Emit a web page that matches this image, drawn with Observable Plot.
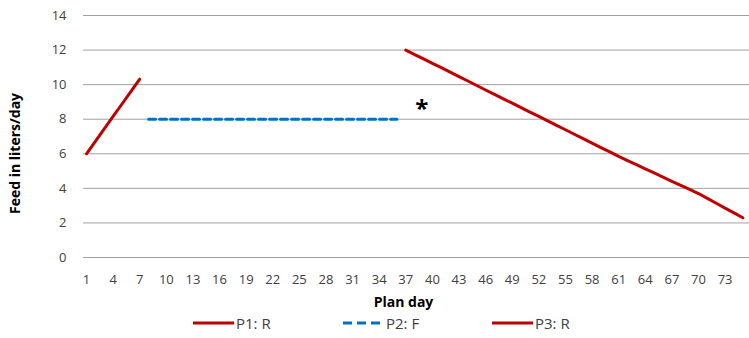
<!DOCTYPE html>
<html>
<head>
<meta charset="utf-8">
<script src="https://cdn.jsdelivr.net/npm/d3@7"></script>
<script src="https://cdn.jsdelivr.net/npm/@observablehq/plot@0.6"></script>
<style>
  html, body { margin: 0; padding: 0; background: #fff; }
  #wrap { position: relative; width: 749px; height: 338px; font-family: "Open Sans", sans-serif; }
  .legend { position: absolute; top: 313px; left: 0; width: 749px; height: 22px; font-size: 15px; color: #404040; }
  .item { position: absolute; display: flex; align-items: center; gap: 2px; }
</style>
</head>
<body>
<div id="wrap"></div>
<script>
const p1Days = [1, 2, 3, 4, 5, 6, 7];
const p1Values = [6.0, 6.72, 7.44, 8.16, 8.88, 9.6, 10.32];
const p2Days = [8, 9, 10, 11, 12, 13, 14, 15, 16, 17, 18, 19, 20, 21, 22, 23, 24, 25, 26, 27, 28, 29, 30, 31, 32, 33, 34, 35, 36];
const p2Values = [8, 8, 8, 8, 8, 8, 8, 8, 8, 8, 8, 8, 8, 8, 8, 8, 8, 8, 8, 8, 8, 8, 8, 8, 8, 8, 8, 8, 8];
const p3Days = [37, 38, 39, 40, 41, 42, 43, 44, 45, 46, 47, 48, 49, 50, 51, 52, 53, 54, 55, 56, 57, 58, 59, 60, 61, 62, 63, 64, 65, 66, 67, 68, 69, 70, 71, 72, 73, 74, 75];
const p3Values = [12.00, 11.74, 11.49, 11.23, 10.98, 10.72, 10.46, 10.21, 9.95, 9.69, 9.44, 9.18, 8.93, 8.67, 8.41, 8.16, 7.90, 7.64, 7.39, 7.13, 6.88, 6.62, 6.36, 6.11, 5.85, 5.61, 5.37, 5.13, 4.89, 4.65, 4.41, 4.17, 3.94, 3.70, 3.42, 3.14, 2.86, 2.58, 2.30];
const xTicks = [1, 4, 7, 10, 13, 16, 19, 22, 25, 28, 31, 34, 37, 40, 43, 46, 49, 52, 55, 58, 61, 64, 67, 70, 73];
const yTicks = [0, 2, 4, 6, 8, 10, 12, 14];
const xLabel = "Plan day";
const yLabel = "Feed in liters/day";
const legendLabels = ["P1: R", "P2: F", "P3: R"];
const note = [{day: 38.8, value: 8.55, text: "*"}];

const red = "#c00000", blue = "#0070c0";
const toRows = (days, vals) => days.map((d, i) => ({day: d, value: vals[i]}));
const p1 = toRows(p1Days, p1Values);
const p2 = toRows(p2Days, p2Values);
const p3 = toRows(p3Days, p3Values);

const chart = Plot.plot({
  width: 749,
  height: 313,
  marginLeft: 83,
  marginRight: 0,
  marginTop: 15,
  marginBottom: 56,
  style: {fontFamily: "Open Sans, sans-serif", fontSize: "13px", color: "#404040", background: "#fff"},
  x: {domain: [0.662, 75.75]},
  y: {domain: [0, 14]},
  marks: [
    Plot.gridY(yTicks, {stroke: "#a0a0a0", strokeOpacity: 1, strokeWidth: 1}),
    Plot.axisY(yTicks, {tickSize: 0, tickPadding: 17, label: null, fill: "#404040"}),
    Plot.axisX(xTicks, {tickSize: 0, tickPadding: 17, label: null, fill: "#404040"}),
    Plot.text([yLabel], {frameAnchor: "middle", textAnchor: "middle", rotate: -90, dx: -401, dy: 17, fontSize: 14, fontWeight: "bold", fill: "#000"}),
    Plot.text([xLabel], {frameAnchor: "bottom", textAnchor: "middle", dx: -13, dy: 49, fontSize: 14, fontWeight: "bold", fill: "#000"}),
    Plot.line(p1, {x: "day", y: "value", stroke: red, strokeWidth: 3}),
    Plot.line(p2, {x: "day", y: "value", stroke: blue, strokeWidth: 3, strokeDasharray: "7,4"}),
    Plot.line(p3, {x: "day", y: "value", stroke: red, strokeWidth: 3}),
    Plot.text(note, {x: "day", y: "value", text: "text", fontSize: 24, fontWeight: "bold", fill: "#000"})
  ]
});
const wrap = document.getElementById("wrap");
wrap.appendChild(chart);

const legend = document.createElement("div");
legend.className = "legend";
const items = [
  {label: legendLabels[0], color: red, dash: null, left: 193},
  {label: legendLabels[1], color: blue, dash: "9,5", left: 343},
  {label: legendLabels[2], color: red, dash: null, left: 492}
];
for (const it of items) {
  const d = document.createElement("div");
  d.className = "item";
  d.style.left = it.left + "px";
  d.innerHTML = `<svg width="41" height="6"><line x1="0" x2="41" y1="3" y2="3" stroke="${it.color}" stroke-width="3" ${it.dash ? `stroke-dasharray="${it.dash}"` : ""}/></svg>`;
  const t = document.createElement("span");
  t.textContent = it.label;
  d.appendChild(t);
  legend.appendChild(d);
}
wrap.appendChild(legend);
</script>
</body>
</html>
